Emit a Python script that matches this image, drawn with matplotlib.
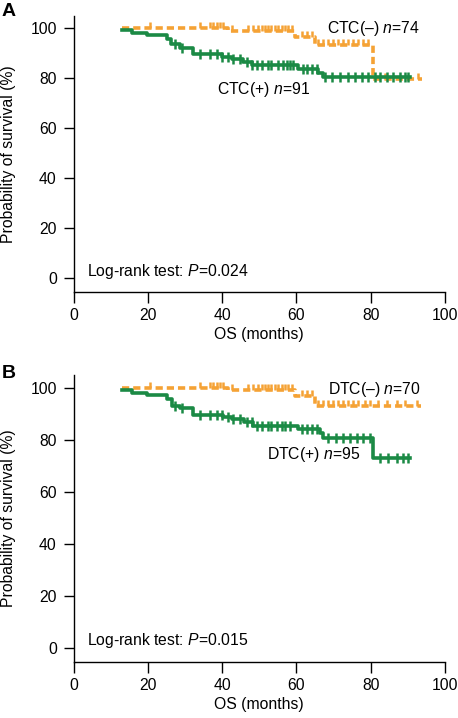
import numpy as np
import matplotlib
matplotlib.use("Agg")
import matplotlib.pyplot as plt

plt.rcParams['font.family'] = ['Liberation Sans', 'DejaVu Sans']
plt.rcParams['mathtext.fontset'] = 'custom'
plt.rcParams['mathtext.rm'] = 'Liberation Sans'
plt.rcParams['mathtext.it'] = 'Liberation Sans:italic'

# Panel A: CTC
ctc_pos_t = [13.0, 15.7, 19.7, 25.1, 26.2, 28.7, 32.3, 39.9, 42.6, 45.7, 48.0, 60.5, 65.9, 67.2, 90.6]
ctc_pos_s = [99.3, 98.3, 97.3, 95.6, 93.6, 92.1, 89.6, 88.7, 87.6, 86.7, 85.3, 83.6, 82.0, 80.5, 80.5]
ctc_pos_cens = [27.3, 29.1, 34.1, 36.7, 38.5, 39.9, 41.7, 43.0, 44.8, 46.6, 48.0, 49.3, 50.7, 52.4,
                53.3, 55.1, 56.5, 57.4, 58.3, 59.2, 61.9, 62.8, 64.1, 65.5, 67.7, 69.5, 71.7, 74.0,
                75.8, 77.6, 79.4, 81.2, 82.5, 84.3, 86.1, 87.9, 89.2, 90.1]

ctc_neg_t = [13.0, 41.7, 59.6, 65.0, 80.7, 93.7]
ctc_neg_s = [100.0, 98.9, 96.7, 93.3, 79.8, 79.8]
ctc_neg_cens = [20.6, 34.1, 36.7, 37.6, 38.5, 39.4, 40.3, 42.6, 47.1, 48.4, 49.7, 50.7, 51.5, 52.4,
                53.3, 54.2, 55.1, 56.0, 56.9, 57.8, 58.7, 61.4, 62.8, 64.1, 65.9, 67.2, 68.6,
                69.9, 71.3, 72.6, 73.9, 75.3, 76.6, 78.0, 79.4, 83.8, 92.8]

# Panel B: DTC
dtc_pos_t = [13.0, 15.7, 19.7, 25.1, 26.4, 28.7, 32.3, 40.3, 42.6, 46.0, 48.3, 60.5, 66.3, 67.2, 80.7, 90.6]
dtc_pos_s = [99.1, 98.1, 97.2, 95.5, 93.1, 92.1, 89.5, 88.8, 87.8, 86.9, 85.4, 84.0, 82.5, 80.8, 72.8, 72.8]
dtc_pos_cens = [27.3, 29.1, 34.1, 36.7, 38.5, 39.9, 41.7, 43.0, 44.8, 46.6, 48.0, 49.3, 50.7, 52.4,
                53.3, 54.7, 56.0, 56.9, 58.3, 61.4, 62.8, 64.1, 65.5, 68.6, 70.8, 72.6, 74.4,
                76.2, 78.0, 79.8, 82.5, 84.7, 87.0, 88.8, 90.1]

dtc_neg_t = [13.0, 41.7, 59.6, 65.0, 93.5]
dtc_neg_s = [100.0, 99.0, 96.8, 92.8, 92.8]
dtc_neg_cens = [20.6, 34.1, 36.7, 37.6, 38.5, 39.4, 40.3, 42.6, 47.1, 48.4, 49.7, 50.7, 51.5, 52.4,
                53.3, 54.2, 55.1, 56.0, 56.9, 57.8, 58.7, 61.4, 62.8, 64.1, 65.9, 67.2, 68.6,
                69.9, 71.3, 72.6, 73.9, 75.3, 76.6, 78.5, 79.8, 82.0, 84.3, 87.0, 89.2, 92.4]

green = '#1b8a45'
orange = '#f5a235'
fs = 11.3


def step_value(t, s, x):
    idx = np.searchsorted(t, x, side='right') - 1
    return np.array(s)[np.clip(idx, 0, len(s) - 1)]


def panel(ax, pos_t, pos_s, pos_c, neg_t, neg_s, neg_c, neg_lab, neg_xy, pos_lab, pos_xy, pval, xlab_y):
    # curva negativa (naranja, discontinua)
    ax.plot(neg_t, neg_s, drawstyle='steps-post', color=orange, lw=2.6,
            linestyle=(0, (2.0, 1.1)), zorder=2)
    ax.plot(neg_c, step_value(neg_t, neg_s, neg_c), linestyle='none', marker=2,
            markersize=4, mew=1.8, color=orange, zorder=2)
    # curva positiva (verde)
    ax.plot(pos_t, pos_s, drawstyle='steps-post', color=green, lw=2.6, zorder=3)
    ax.plot(pos_c, step_value(pos_t, pos_s, pos_c), linestyle='none', marker='|',
            markersize=7, mew=1.8, color=green, zorder=3)

    ax.text(neg_xy[0], neg_xy[1], neg_lab, fontsize=fs, va='center', ha='left')
    ax.text(pos_xy[0], pos_xy[1], pos_lab, fontsize=fs, va='center', ha='left')
    ax.text(3.6, 2.6, 'Log-rank test: $P$=' + pval, fontsize=fs, va='center', ha='left')

    ax.set_xlim(0, 100)
    ax.set_ylim(-5.4, 105)
    ax.set_xticks([0, 20, 40, 60, 80, 100])
    ax.set_yticks([0, 20, 40, 60, 80, 100])
    ax.spines['top'].set_visible(False)
    ax.spines['right'].set_visible(False)
    ax.spines['left'].set_linewidth(1.0)
    ax.spines['bottom'].set_linewidth(1.0)
    ax.tick_params(axis='x', length=8, width=1.0, pad=4, labelsize=fs)
    ax.tick_params(axis='y', length=7, width=1.0, pad=5, labelsize=fs)
    ax.set_xlabel('OS (months)', fontsize=fs)
    ax.set_ylabel('Probability of survival (%)', fontsize=fs)
    ax.xaxis.set_label_coords(0.5, xlab_y)
    ax.yaxis.set_label_coords(-0.155, 0.5)


fig = plt.figure(figsize=(4.58, 7.18), dpi=100)
axA = fig.add_axes([0.1605, 0.5936, 0.811, 0.3844])
axB = fig.add_axes([0.1605, 0.0784, 0.811, 0.3997])

panel(axA, ctc_pos_t, ctc_pos_s, ctc_pos_cens, ctc_neg_t, ctc_neg_s, ctc_neg_cens,
      'CTC(–) $n$=74', (68.2, 100.0), 'CTC(+) $n$=91', (38.5, 75.6), '0.024', -0.1275)
panel(axB, dtc_pos_t, dtc_pos_s, dtc_pos_cens, dtc_neg_t, dtc_neg_s, dtc_neg_cens,
      'DTC(–) $n$=70', (68.6, 99.4), 'DTC(+) $n$=95', (52.0, 74.5), '0.015', -0.122)

fig.text(0.003, 1 - 3 / 718, 'A', fontsize=14, weight='bold', va='top', ha='left')
fig.text(0.003, 1 - 365 / 718, 'B', fontsize=14, weight='bold', va='top', ha='left')

fig.savefig('out.png', dpi=100)
